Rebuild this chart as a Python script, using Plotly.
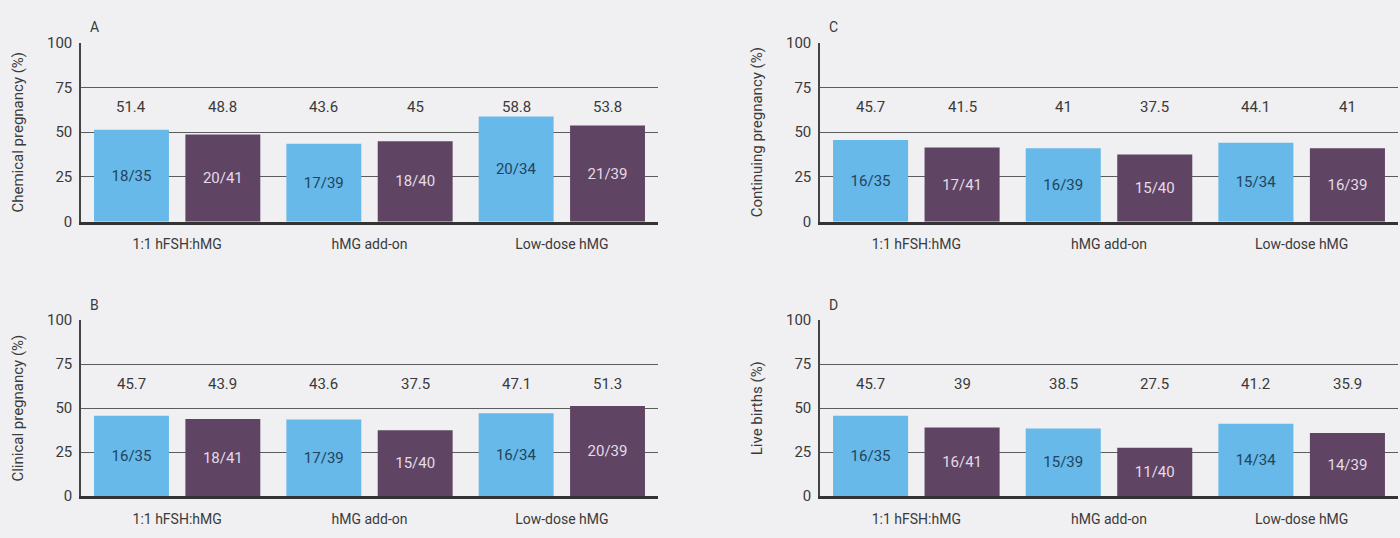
import plotly.graph_objects as go

categories = ["1:1 hFSH:hMG", "hMG add-on", "Low-dose hMG"]
panel_letters = ["A", "B", "C", "D"]
y_titles = ["Chemical pregnancy (%)", "Clinical pregnancy (%)",
            "Continuing pregnancy (%)", "Live births (%)"]

# values per panel: (series1 blue, series2 purple)
chem_s1 = [51.4, 43.6, 58.8]
chem_s2 = [48.8, 45, 53.8]
chem_f1 = ["18/35", "17/39", "20/34"]
chem_f2 = ["20/41", "18/40", "21/39"]

clin_s1 = [45.7, 43.6, 47.1]
clin_s2 = [43.9, 37.5, 51.3]
clin_f1 = ["16/35", "17/39", "16/34"]
clin_f2 = ["18/41", "15/40", "20/39"]

cont_s1 = [45.7, 41, 44.1]
cont_s2 = [41.5, 37.5, 41]
cont_f1 = ["16/35", "16/39", "15/34"]
cont_f2 = ["17/41", "15/40", "16/39"]

live_s1 = [45.7, 38.5, 41.2]
live_s2 = [39, 27.5, 35.9]
live_f1 = ["16/35", "15/39", "14/34"]
live_f2 = ["16/41", "11/40", "14/39"]

y_ticks = [0, 25, 50, 75, 100]

panels = [
    (chem_s1, chem_s2, chem_f1, chem_f2),
    (clin_s1, clin_s2, clin_f1, clin_f2),
    (cont_s1, cont_s2, cont_f1, cont_f2),
    (live_s1, live_s2, live_f1, live_f2),
]

W, H = 1400, 538
FONT = "Roboto, Open Sans, sans-serif"
BG = "#f0f0f2"
BLUE = "#66b9e9"
PURPLE = "#5f4464"
GRID = "#5c5c5c"
TXT = "#3a3a3a"

# pixel layout (left, right, top, bottom)
boxes = [
    (81, 658, 35, 220),
    (81, 658, 322, 504),
    (820, 1398, 35, 220),
    (820, 1398, 322, 504),
]

fig = go.Figure()
annotations = []
layout_axes = {}

for i, ((s1, s2, f1, f2), (l, r, t, b)) in enumerate(zip(panels, boxes)):
    n = i + 1
    xa = "x" if n == 1 else f"x{n}"
    ya = "y" if n == 1 else f"y{n}"
    fig.add_trace(go.Bar(
        x=categories, y=s1, text=f1, xaxis=xa, yaxis=ya,
        marker=dict(color=BLUE, line=dict(width=0)),
        textposition="inside", insidetextanchor="middle", textangle=0,
        textfont=dict(family=FONT, size=15, color="#24435c"),
        offsetgroup="a", showlegend=False, hoverinfo="x+y",
    ))
    fig.add_trace(go.Bar(
        x=categories, y=s2, text=f2, xaxis=xa, yaxis=ya,
        marker=dict(color=PURPLE, line=dict(width=0)),
        textposition="inside", insidetextanchor="middle", textangle=0,
        textfont=dict(family=FONT, size=15, color="#e4dce6"),
        offsetgroup="b", showlegend=False, hoverinfo="x+y",
    ))
    dom_x = [l / W, r / W]
    dom_y = [1 - b / H, 1 - t / H]
    xkey = "xaxis" if n == 1 else f"xaxis{n}"
    ykey = "yaxis" if n == 1 else f"yaxis{n}"
    layout_axes[xkey] = dict(
        domain=dom_x, anchor=ya, showgrid=False, showline=True,
        linecolor="#333333", linewidth=2.5, ticks="",
        tickfont=dict(family=FONT, size=14, color=TXT), ticklabelstandoff=8,
    )
    layout_axes[ykey] = dict(
        domain=dom_y, anchor=xa, range=[0, 100], tickvals=y_ticks,
        showgrid=True, gridcolor=GRID, gridwidth=1.3, zeroline=False,
        showline=True, linecolor="#444444", linewidth=1.5, ticks="",
        tickfont=dict(family=FONT, size=15, color=TXT), ticklabelstandoff=4,
        title=dict(text=y_titles[i], font=dict(family=FONT, size=15, color=TXT),
                   standoff=20),
    )
    # value labels at a fixed height above bars
    slot_px = (r - l) / 3 * 0.95 / 2
    for c, v1, v2 in zip(categories, s1, s2):
        for v, sh in ((v1, -slot_px / 2), (v2, slot_px / 2)):
            annotations.append(dict(
                x=c, y=64, xref=xa, yref=ya, text=f"{v:g}", showarrow=False,
                xshift=sh, font=dict(family=FONT, size=15, color=TXT),
            ))
    # panel letter
    annotations.append(dict(
        x=(l + 7) / W, y=1 - (t - 16) / H, xref="paper", yref="paper",
        text=panel_letters[i], showarrow=False, xanchor="left", yanchor="middle",
        font=dict(family=FONT, size=14, color=TXT),
    ))

fig.update_layout(
    width=W, height=H, margin=dict(l=0, r=0, t=0, b=0),
    paper_bgcolor=BG, plot_bgcolor=BG,
    barmode="group", bargap=0.05, bargroupgap=0.18,
    annotations=annotations, showlegend=False,
    **layout_axes,
)

fig.write_html(
    "out.html",
    config={"displayModeBar": False},
    post_script="document.body.style.margin='0';document.body.style.overflow='hidden';",
)
